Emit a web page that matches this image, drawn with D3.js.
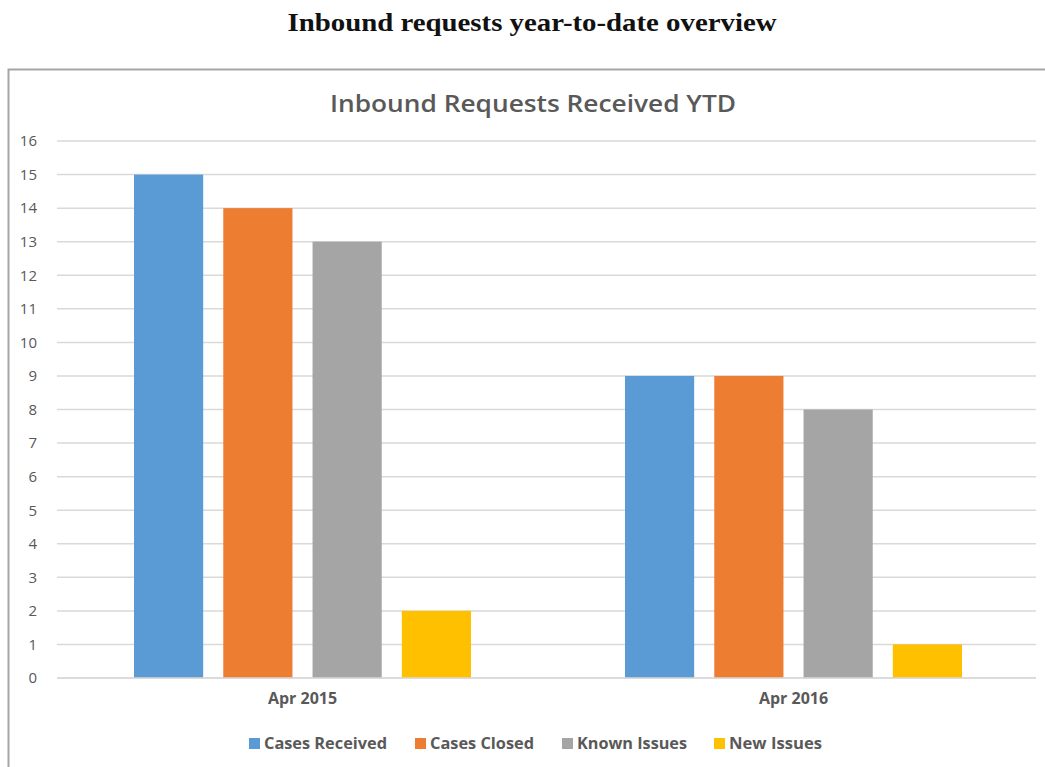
<!DOCTYPE html>
<html>
<head>
<meta charset="utf-8">
<script src="https://cdn.jsdelivr.net/npm/d3@7"></script>
<style>
  body { margin: 0; background: #fff; }
</style>
</head>
<body>
<svg id="chartSvg" width="1045" height="767"></svg>
<script>
// Chart data
const categories = ["Apr 2015", "Apr 2016"];
const seriesNames = ["Cases Received", "Cases Closed", "Known Issues", "New Issues"];
const casesReceived = [15, 9];
const casesClosed = [14, 9];
const knownIssues = [13, 8];
const newIssues = [2, 1];
const yTicks = [0, 1, 2, 3, 4, 5, 6, 7, 8, 9, 10, 11, 12, 13, 14, 15, 16];

const seriesValues = [casesReceived, casesClosed, knownIssues, newIssues];
const colors = ["#5B9BD5", "#ED7D31", "#A5A5A5", "#FFC000"];

const svg = d3.select("#chartSvg");

// Page title
svg.append("text")
    .attr("x", 532)
    .attr("y", 31)
    .attr("text-anchor", "middle")
    .attr("font-family", "'Liberation Serif', serif")
    .attr("font-weight", "bold")
    .attr("font-size", "26px")
    .attr("textLength", 489)
    .attr("lengthAdjust", "spacingAndGlyphs")
    .attr("fill", "#111")
    .text("Inbound requests year-to-date overview");

// Chart frame
svg.append("rect")
    .attr("x", 8.5)
    .attr("y", 69.5)
    .attr("width", 1060)
    .attr("height", 720)
    .attr("fill", "none")
    .attr("stroke", "#a6a6a6")
    .attr("stroke-width", 2);

// Chart title
svg.append("text")
    .attr("x", 533)
    .attr("y", 112)
    .attr("text-anchor", "middle")
    .attr("font-family", "'Open Sans', sans-serif")
    .attr("font-weight", "600")
    .attr("font-size", "24px")
    .attr("textLength", 406)
    .attr("lengthAdjust", "spacingAndGlyphs")
    .attr("fill", "#595959")
    .text("Inbound Requests Received YTD");

// Scales
const x0 = d3.scaleBand()
    .domain(categories)
    .range([57, 1039]);

const x1 = d3.scaleBand()
    .domain(seriesNames)
    .range([77, x0.bandwidth() - 77])
    .paddingInner(0.225);

const y = d3.scaleLinear()
    .domain([0, 16])
    .range([678, 141]);

// Gridlines
svg.append("g")
    .selectAll("line")
    .data(yTicks)
    .enter()
    .append("line")
    .attr("x1", 57)
    .attr("x2", 1036)
    .attr("y1", d => y(d))
    .attr("y2", d => y(d))
    .attr("stroke", "#d9d9d9")
    .attr("stroke-width", 1.5);

// Y axis labels
const yAxis = svg.append("g")
    .attr("transform", "translate(37, 0)")
    .call(d3.axisLeft(y).tickValues(yTicks).tickSize(0).tickPadding(0));
yAxis.select(".domain").remove();
yAxis.selectAll("text")
    .attr("font-family", "'Open Sans', sans-serif")
    .attr("font-size", "15px")
    .attr("fill", "#595959");

// Bars
const groups = svg.append("g")
    .selectAll("g")
    .data(categories)
    .enter()
    .append("g")
    .attr("transform", d => `translate(${x0(d)}, 0)`);

groups.selectAll("rect")
    .data((c, ci) => seriesNames.map((s, si) => ({ s, si, v: seriesValues[si][ci] })))
    .enter()
    .append("rect")
    .attr("x", d => x1(d.s))
    .attr("y", d => y(d.v))
    .attr("width", x1.bandwidth())
    .attr("height", d => y(0) - y(d.v))
    .attr("fill", d => colors[d.si]);

// Baseline
svg.append("line")
    .attr("x1", 57).attr("x2", 1036)
    .attr("y1", y(0)).attr("y2", y(0))
    .attr("stroke", "#d9d9d9")
    .attr("stroke-width", 1.5);

// Category labels
const xAxis = svg.append("g")
    .attr("transform", `translate(0, ${y(0)})`)
    .call(d3.axisBottom(x0).tickSize(0).tickPadding(15));
xAxis.select(".domain").remove();
xAxis.selectAll("text")
    .attr("font-family", "'Open Sans', sans-serif")
    .attr("font-weight", "bold")
    .attr("font-size", "16px")
    .attr("fill", "#595959");

// Legend
const legendX = [249, 415, 562, 714];
const legendW = [123, 104, 110, 93];
const legend = svg.append("g")
    .selectAll("g")
    .data(seriesNames)
    .enter()
    .append("g")
    .attr("transform", (d, i) => `translate(${legendX[i]}, 743)`);

legend.append("rect")
    .attr("x", 0)
    .attr("y", -5)
    .attr("width", 11)
    .attr("height", 11)
    .attr("fill", (d, i) => colors[i]);

legend.append("text")
    .attr("x", 15)
    .attr("y", 6)
    .attr("font-family", "'Open Sans', sans-serif")
    .attr("font-weight", "bold")
    .attr("font-size", "16px")
    .attr("textLength", (d, i) => legendW[i])
    .attr("lengthAdjust", "spacingAndGlyphs")
    .attr("fill", "#595959")
    .text(d => d);
</script>
</body>
</html>
